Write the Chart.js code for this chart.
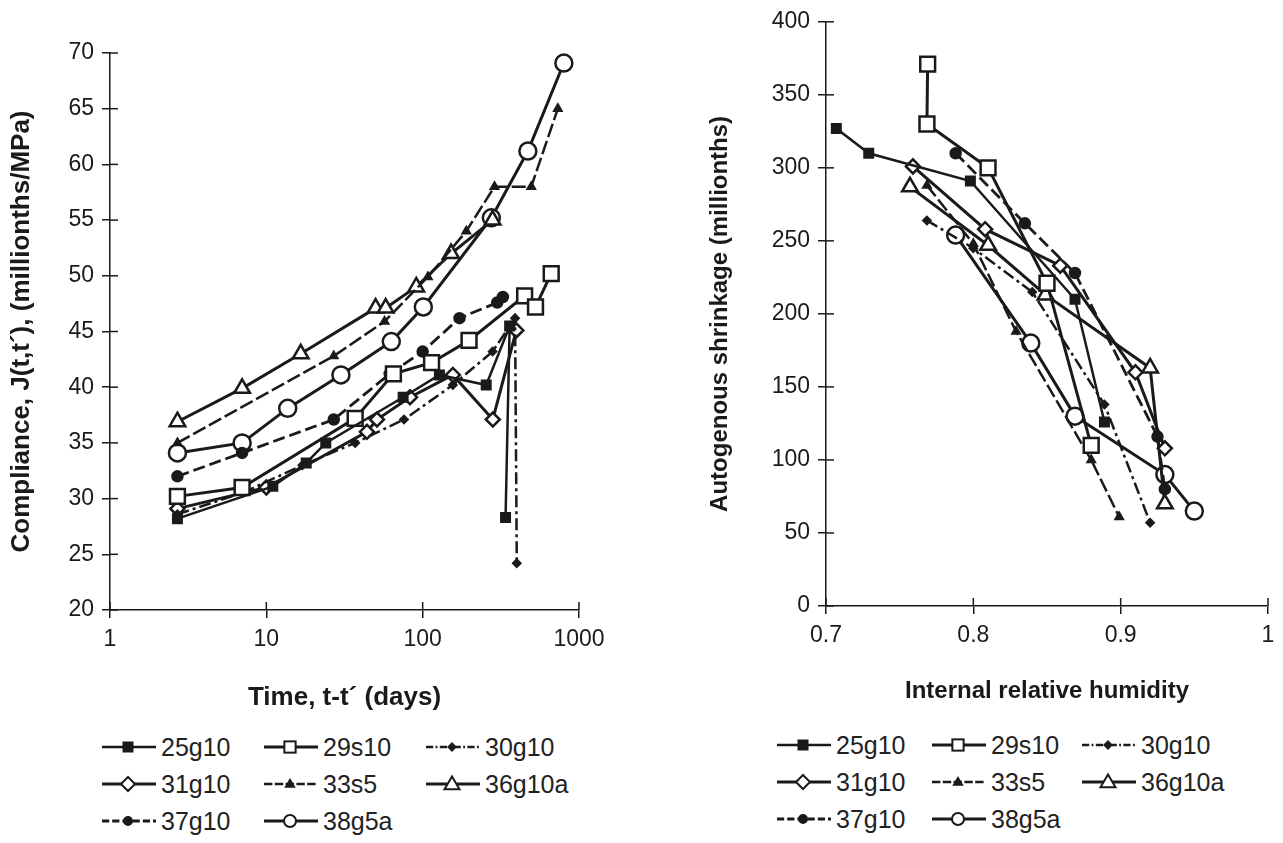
<!DOCTYPE html>
<html>
<head>
<meta charset="utf-8">
<script src="https://cdn.jsdelivr.net/npm/chart.js@4.4.1/dist/chart.umd.min.js"></script>
<style>
  body { margin: 0; background: #fff; width: 1283px; height: 843px; overflow: hidden; position: relative; font-family: "Liberation Sans", Arial, sans-serif; color: #222; }
  .box { position: absolute; }
  .legend { position: absolute; display: grid; row-gap: 9px; font-size: 25px; line-height: 28px; }
  .legend .item { display: flex; align-items: center; white-space: nowrap; }
  .legend svg { margin-right: 3px; }
</style>
</head>
<body>
<div class="box" style="left:0;top:0"><canvas id="creepChart" width="620" height="719"></canvas></div>
<div class="box" style="left:700px;top:0"><canvas id="shrinkChart" width="583" height="712"></canvas></div>
<div class="legend" id="creepLegend" style="left:100px;top:733px;grid-template-columns:162px 162px 160px"></div>
<div class="legend" id="shrinkLegend" style="left:775px;top:731px;grid-template-columns:155px 150px 170px"></div>
<script>
// mix names
const mixes = ['25g10', '29s10', '30g10', '31g10', '33s5', '36g10a', '37g10', '38g5a'];

// compliance J(t,t') vs time t-t' (days)
const creep25g10 = [[2.7, 28.2], [11, 31.1], [18, 33.2], [24, 35], [75, 39.1], [128, 41.1], [255, 40.2], [360, 45.5], [339, 28.3]];
const creep29s10 = [[2.7, 30.2], [7, 31], [37, 37.2], [65, 41.2], [114, 42.2], [198, 44.2], [449, 48.2], [527, 47.2], [664, 50.2]];
const creep30g10 = [[2.7, 28.6], [7, 30.5], [17, 33], [37, 35], [76, 37.1], [156, 40.2], [280, 43.2], [390, 46.2], [400, 24.2]];
const creep31g10 = [[2.7, 29.1], [10, 31], [44, 36], [51, 37.1], [83, 39.1], [156, 41.1], [281, 37.1], [397, 45.1]];
const creep33s5 = [[2.7, 35], [27, 42.8], [57, 45.9], [108, 49.9], [190, 54], [288, 58], [495, 58], [732, 65]];
const creep36g10a = [[2.7, 36.9], [7, 39.9], [16.6, 43], [50, 47.1], [58, 47.1], [91, 49], [152, 52], [280, 55]];
const creep37g10 = [[2.7, 32], [7, 34.1], [27, 37.1], [61.5, 41.2], [100, 43.2], [172, 46.2], [300, 47.6], [326, 48.1]];
const creep38g5a = [[2.7, 34.1], [7, 35], [13.7, 38.1], [30, 41.1], [63, 44.1], [101, 47.2], [275, 55.2], [471, 61.2], [800, 69.1]];

// autogenous shrinkage vs internal relative humidity
const shrink25g10 = [[0.707, 327], [0.729, 310], [0.798, 291], [0.869, 210], [0.889, 126]];
const shrink29s10 = [[0.769, 371], [0.7685, 330], [0.81, 300], [0.85, 221], [0.88, 110]];
const shrink30g10 = [[0.7685, 264], [0.8, 245], [0.84, 215], [0.889, 138], [0.92, 57]];
const shrink31g10 = [[0.759, 301], [0.808, 258], [0.859, 233], [0.91, 160], [0.93, 108]];
const shrink33s5 = [[0.7685, 288], [0.8, 248], [0.829, 188], [0.88, 100], [0.899, 61]];
const shrink36g10a = [[0.757, 287], [0.81, 247], [0.849, 213], [0.92, 163], [0.93, 70]];
const shrink37g10 = [[0.788, 310], [0.835, 262], [0.869, 228], [0.925, 116], [0.93, 80]];
const shrink38g5a = [[0.788, 254], [0.839, 180], [0.869, 130], [0.93, 90], [0.95, 65]];

// tick labels
const timeTicks = [1, 10, 100, 1000];
const complianceTicks = [20, 25, 30, 35, 40, 45, 50, 55, 60, 65, 70];
const humidityTicks = [0.7, 0.8, 0.9, 1];
const shrinkTicks = [0, 50, 100, 150, 200, 250, 300, 350, 400];

const creepData = [creep25g10, creep29s10, creep30g10, creep31g10, creep33s5, creep36g10a, creep37g10, creep38g5a];
const shrinkData = [shrink25g10, shrink29s10, shrink30g10, shrink31g10, shrink33s5, shrink36g10a, shrink37g10, shrink38g5a];

const ink = '#1a1a1a';
// marker / line look for each mix
const looks = [
  { shape: 'rect', r: 6, fill: ink, width: 2.5, dash: [] },
  { shape: 'rect', r: 10.5, fill: '#fff', width: 3, dash: [] },
  { shape: 'rectRot', r: 3.5, fill: ink, width: 2.5, dash: [12, 4, 3, 4] },
  { shape: 'rectRot', r: 7, fill: '#fff', width: 3, dash: [] },
  { shape: 'triangle', r: 4, fill: ink, width: 2.5, dash: [14, 4] },
  { shape: 'triangle', r: 9, fill: '#fff', width: 3, dash: [] },
  { shape: 'circle', r: 5, fill: ink, width: 2.8, dash: [12, 5] },
  { shape: 'circle', r: 8.5, fill: '#fff', width: 3, dash: [] }
];

function makeDatasets(series) {
  return series.map((pts, i) => ({
    label: mixes[i],
    data: pts.map(p => ({ x: p[0], y: p[1] })),
    borderColor: ink,
    borderWidth: looks[i].width,
    borderDash: looks[i].dash,
    pointStyle: looks[i].shape,
    pointRadius: looks[i].r,
    pointBackgroundColor: looks[i].fill,
    pointBorderColor: ink,
    pointBorderWidth: 2.5,
    tension: 0
  }));
}

// short tick marks pointing into the plot too
const innerTicks = {
  id: 'innerTicks',
  afterDraw(chart) {
    const { ctx, chartArea, scales } = chart;
    ctx.save();
    ctx.strokeStyle = ink;
    ctx.lineWidth = 1.5;
    scales.x.ticks.forEach(t => {
      const px = scales.x.getPixelForValue(t.value);
      ctx.beginPath(); ctx.moveTo(px, chartArea.bottom); ctx.lineTo(px, chartArea.bottom - 8); ctx.stroke();
    });
    scales.y.ticks.forEach(t => {
      const py = scales.y.getPixelForValue(t.value);
      ctx.beginPath(); ctx.moveTo(chartArea.left, py); ctx.lineTo(chartArea.left + 8, py); ctx.stroke();
    });
    ctx.restore();
  }
};

const family = '"Liberation Sans", Arial, sans-serif';

function axisGrid() {
  return { display: true, drawOnChartArea: false, drawTicks: true, tickLength: 8, color: ink, lineWidth: 1.5 };
}

function makeChart(id, series, opts) {
  const tickFont = { family, size: opts.tickSize };
  const titleFont = { family, size: opts.titleSize, weight: 'bold' };
  return new Chart(document.getElementById(id), {
    type: 'line',
    data: { datasets: makeDatasets(series) },
    options: {
      responsive: false,
      animation: false,
      devicePixelRatio: 1,
      layout: { padding: opts.padding },
      plugins: { legend: { display: false }, tooltip: { enabled: false } },
      scales: {
        x: {
          type: opts.xType,
          min: opts.xMin, max: opts.xMax,
          afterBuildTicks: s => { s.ticks = opts.xTicks.map(v => ({ value: v })); },
          afterFit: s => { s.height = opts.xHeight; },
          ticks: { color: ink, font: tickFont, padding: 8, maxRotation: 0, autoSkip: false, callback: v => String(v) },
          grid: axisGrid(),
          border: { color: ink, width: 1.5 },
          title: { display: true, text: opts.xTitle, color: ink, font: titleFont, padding: { top: 0, bottom: 6 } }
        },
        y: {
          min: opts.yMin, max: opts.yMax,
          afterBuildTicks: s => { s.ticks = opts.yTicks.map(v => ({ value: v })); },
          afterFit: s => { s.width = opts.yWidth; },
          ticks: { color: ink, font: tickFont, padding: 8, autoSkip: false },
          grid: axisGrid(),
          border: { color: ink, width: 1.5 },
          title: { display: true, text: opts.yTitle, color: ink, font: titleFont, padding: { top: 6, bottom: 0 } }
        }
      }
    },
    plugins: [innerTicks]
  });
}

makeChart('creepChart', creepData, {
  xType: 'logarithmic', xMin: 1, xMax: 1000, xTicks: timeTicks,
  yMin: 20, yMax: 70, yTicks: complianceTicks,
  xTitle: 'Time, t-t\u00b4 (days)', yTitle: 'Compliance, J(t,t\u00b4), (millionths/MPa)',
  tickSize: 23, titleSize: 26,
  padding: { top: 53, right: 41, left: 0, bottom: 0 }, xHeight: 109, yWidth: 110
});

makeChart('shrinkChart', shrinkData, {
  xType: 'linear', xMin: 0.7, xMax: 1, xTicks: humidityTicks,
  yMin: 0, yMax: 400, yTicks: shrinkTicks,
  xTitle: 'Internal relative humidity', yTitle: 'Autogenous shrinkage (millionths)',
  tickSize: 23, titleSize: 24,
  padding: { top: 20, right: 15, left: 0, bottom: 0 }, xHeight: 106, yWidth: 126
});

// legend: line - marker - line, in three columns
function markerSvg(look) {
  const c = 28, m = 10, r = Math.min(look.r, 7.5);
  let shape;
  if (look.shape === 'rect') shape = `<rect x="${c - r * 0.75}" y="${m - r * 0.75}" width="${r * 1.5}" height="${r * 1.5}"/>`;
  else if (look.shape === 'rectRot') shape = `<polygon points="${c},${m - r} ${c + r},${m} ${c},${m + r} ${c - r},${m}"/>`;
  else if (look.shape === 'triangle') shape = `<polygon points="${c},${m - r} ${c + r},${m + r * 0.7} ${c - r},${m + r * 0.7}"/>`;
  else shape = `<circle cx="${c}" cy="${m}" r="${r * 0.8}"/>`;
  const dash = look.dash.length ? `stroke-dasharray="${look.dash.map(d => d * 0.6).join(' ')}"` : '';
  return `<svg width="58" height="20" viewBox="0 0 58 20">
    <line x1="2" y1="${m}" x2="56" y2="${m}" stroke="${ink}" stroke-width="${look.width}" ${dash}/>
    <g fill="${look.fill}" stroke="${ink}" stroke-width="2">${shape}</g></svg>`;
}

['creepLegend', 'shrinkLegend'].forEach(id => {
  document.getElementById(id).innerHTML = mixes.map((name, i) =>
    `<div class="item">${markerSvg(looks[i])}<span>${name}</span></div>`).join('');
});
</script>
</body>
</html>
